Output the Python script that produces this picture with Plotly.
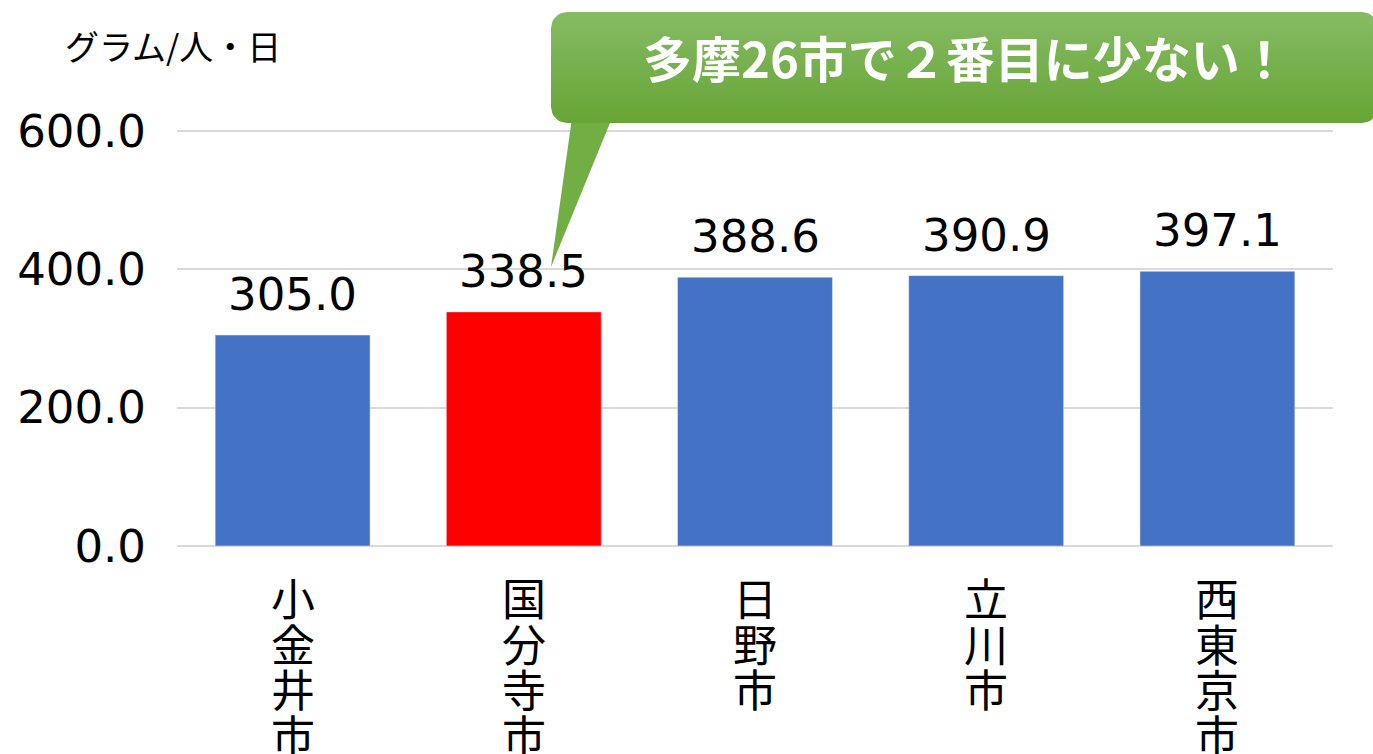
import math
import plotly.graph_objects as go

categories = ["小金井市", "国分寺市", "日野市", "立川市", "西東京市"]
values = [305.0, 338.5, 388.6, 390.9, 397.1]
highlight = "国分寺市"
y_ticks = [0, 200, 400, 600]
y_title = "グラム/人・日"
callout_text = "多摩26市で２番目に少ない！"

W, H = 1373, 754
L, R = 177, 1333
Y0_PX, Y600_PX = 546, 131
YMAX = 603
px_per_unit = (Y0_PX - Y600_PX) / 600
T = Y0_PX - YMAX * px_per_unit

BLUE = "#4472c4"
RED = "#ff0000"
CJK = "Noto Sans CJK JP"
NUM = "DejaVu Sans, Noto Sans CJK JP"

colors = [RED if c == highlight else BLUE for c in categories]

fig = go.Figure()
fig.add_trace(go.Bar(
    x=categories, y=values, marker_color=colors, width=0.67,
    cliponaxis=False, xaxis="x", yaxis="y", showlegend=False, hoverinfo="x+y",
))


def rounded_rect(x0, y0, x1, y1, r, n=8):
    pts = []

    def arc(cx, cy, a0, a1):
        for k in range(n + 1):
            a = math.radians(a0 + (a1 - a0) * k / n)
            pts.append((cx + r * math.cos(a), cy + r * math.sin(a)))
    arc(x0 + r, y0 + r, 180, 270)
    arc(x1 - r, y0 + r, 270, 360)
    arc(x1 - r, y1 - r, 0, 90)
    arc(x0 + r, y1 - r, 90, 180)
    pts.append(pts[0])
    return pts


tail_pts = [(612, 118), (551, 267), (572, 118), (612, 118)]
fig.add_trace(go.Scatter(
    x=[p[0] for p in tail_pts], y=[H - p[1] for p in tail_pts],
    mode="lines", fill="toself", fillcolor="#71af45",
    line=dict(width=0), xaxis="x2", yaxis="y2", hoverinfo="skip", showlegend=False,
))
box = rounded_rect(551, 12, 1378, 123, 16)
fig.add_trace(go.Scatter(
    x=[p[0] for p in box], y=[H - p[1] for p in box],
    mode="lines", fill="toself",
    fillgradient=dict(type="vertical", start=H - 123, stop=H - 12,
                      colorscale=[[0, "#66a535"], [1, "#86bb64"]]),
    line=dict(width=0), xaxis="x2", yaxis="y2", hoverinfo="skip", showlegend=False,
))

annotations = [
    dict(text=callout_text, x=966 / W, y=1 - 56 / H, xref="paper", yref="paper",
         showarrow=False, xanchor="center", yanchor="middle",
         font=dict(family=CJK, size=49, color="#ffffff", weight="bold")),
    dict(text=y_title, x=63 / W, y=1 - 46 / H, xref="paper", yref="paper",
         showarrow=False, xanchor="left", yanchor="middle",
         font=dict(family=CJK, size=34, color="#000000")),
]
for c, v in zip(categories, values):
    annotations.append(dict(
        text=f"{v:.1f}", x=c, y=v, xref="x", yref="y",
        showarrow=False, xanchor="center", yanchor="bottom", yshift=12,
        font=dict(family=NUM, size=45, color="#000000"),
    ))
pitch = 45.5
for c in categories:
    for i, ch in enumerate(c):
        annotations.append(dict(
            text=ch, x=c, y=1 - (597 + i * pitch) / H, xref="x", yref="paper",
            showarrow=False, xanchor="center", yanchor="middle",
            font=dict(family=CJK, size=44, color="#000000"),
        ))

fig.update_layout(
    width=W, height=H,
    margin=dict(l=0, r=0, t=0, b=0, autoexpand=False),
    paper_bgcolor="#ffffff", plot_bgcolor="rgba(0,0,0,0)",
    xaxis=dict(domain=[L / W, R / W], anchor="y", showticklabels=False,
               showgrid=False, zeroline=False, showline=False, fixedrange=True),
    yaxis=dict(domain=[1 - Y0_PX / H, 1 - T / H], anchor="x", range=[0, YMAX],
               tickvals=y_ticks, tickformat=".1f",
               tickfont=dict(family=NUM, size=45, color="#000000"),
               showgrid=True, gridcolor="#d9d9d9", gridwidth=2,
               zeroline=True, zerolinecolor="#d9d9d9", zerolinewidth=2,
               showline=False, ticks="", ticklabelstandoff=30,
               automargin=False, fixedrange=True),
    xaxis2=dict(domain=[0, 1], range=[0, W], anchor="y2", visible=False, fixedrange=True),
    yaxis2=dict(domain=[0, 1], range=[0, H], anchor="x2", visible=False, fixedrange=True),
    annotations=annotations,
)

fig.write_html("out.html", post_script="document.body.style.margin='0';",
               config={"displayModeBar": False})
